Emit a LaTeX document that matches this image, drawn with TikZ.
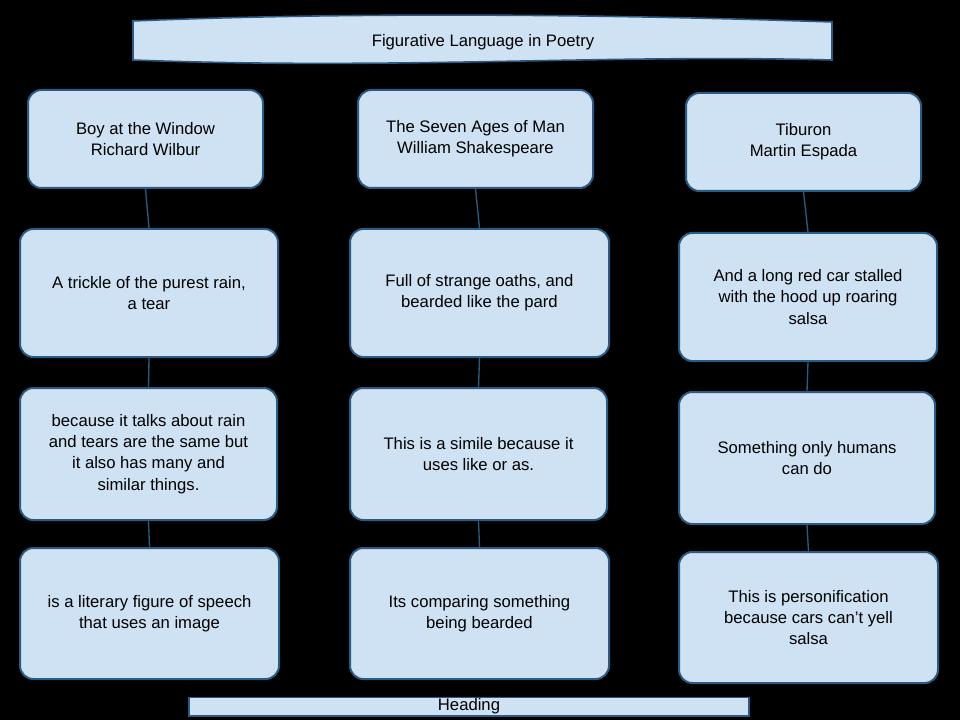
\documentclass[tikz,border=0pt]{standalone}
\usepackage{fontspec}
\setmainfont{Liberation Sans}
\begin{document}
\begin{tikzpicture}[x=0.75pt,y=-0.75pt]
\definecolor{bfill}{HTML}{CFE2F3}
\definecolor{bline}{HTML}{2B5B82}
\tikzset{
 card/.style={draw=bline,fill=bfill,line width=1.5pt,rounded corners=10pt,inner sep=0pt,align=center,font=\fontsize{12.5}{16}\selectfont},
 link/.style={draw=bline,line width=1pt}
}
\fill[black] (0,0) rectangle (960,720);
\useasboundingbox (0,0) rectangle (960,720);
% banner
\draw[bline,fill=bfill,line width=1.2pt] (133,21) .. controls (350,12) and (600,14) .. (832,22) -- (832,60) .. controls (600,54) and (400,70) .. (133,60) -- cycle;
\node[font=\fontsize{12.5}{16}\selectfont] (title) at (483,42) {Figurative Language in Poetry};
% helper
\newcommand{\card}[6]{\node[card,minimum width=#4*0.75pt-#2*0.75pt,minimum height=#5*0.75pt-#3*0.75pt] (#1) at ({(#2+#4)/2},{(#3+#5)/2}) {#6};}
\card{a1}{28}{90}{263}{188}{Boy at the Window\\Richard Wilbur}
\card{a2}{20}{229}{278}{357}{A trickle of the purest rain,\\a tear}
\card{a3}{20}{388}{277}{520}{because it talks about rain\\and tears are the same but\\it also has many and\\similar things.}
\card{a4}{20}{548}{279}{679}{is a literary figure of speech\\that uses an image}
\card{b1}{358}{90}{593}{188}{The Seven Ages of Man\\William Shakespeare}
\card{b2}{350}{229}{609}{357}{Full of strange oaths, and\\bearded like the pard}
\card{b3}{350}{388}{607}{520}{This is a simile because it\\uses like or as.}
\card{b4}{350}{548}{609}{679}{Its comparing something\\being bearded}
\card{c1}{686}{93}{921}{191}{Tiburon\\Martin Espada}
\card{c2}{679}{233}{937}{361}{And a long red car stalled\\with the hood up roaring\\salsa}
\card{c3}{679}{392}{935}{524}{Something only humans\\can do}
\card{c4}{679}{552}{938}{683}{This is personification\\because cars can't yell\\salsa}
\foreach \c in {a,b,c}{
 \draw[link] (\c1.south) -- (\c2.north);
 \draw[link] (\c2.south) -- (\c3.north);
 \draw[link] (\c3.south) -- (\c4.north);
}
\node[draw=bline,fill=bfill,line width=1pt,minimum width=420pt,minimum height=14pt,inner sep=0pt,font=\fontsize{12.5}{14}\selectfont] (head) at (469,706.5) {Heading};
\end{tikzpicture}
\end{document}
